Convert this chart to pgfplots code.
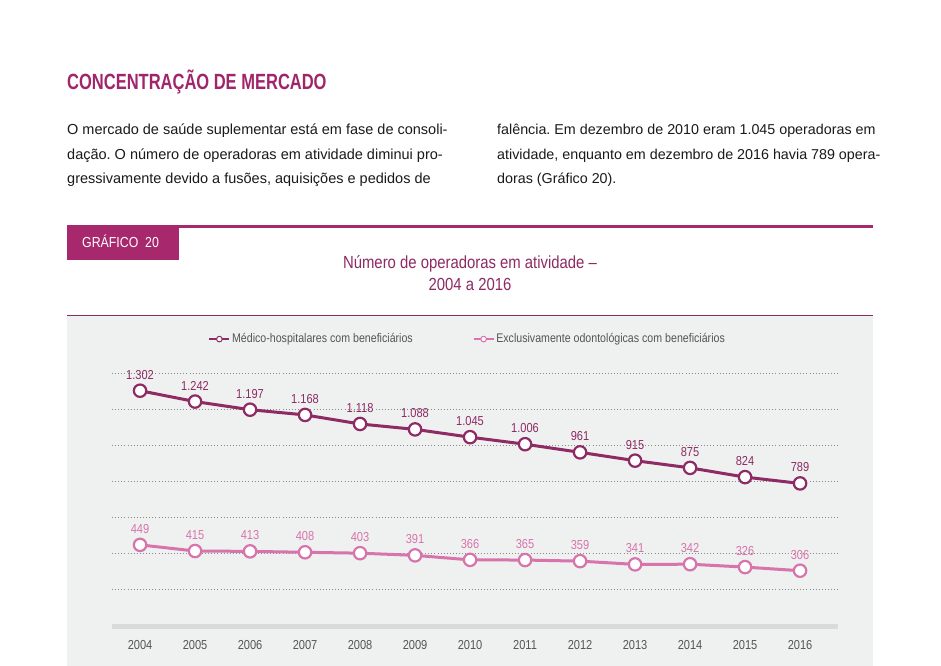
\documentclass[border=0pt]{standalone}
\usepackage{pgfplots}
\pgfplotsset{compat=1.18}
\usepackage{pgfplotstable}
\usepackage{fontspec}
\setmainfont{Liberation Sans}
\newfontfamily\cond[FakeStretch=0.85]{Liberation Sans}
\newfontfamily\condb[FakeStretch=0.75]{Liberation Sans}
\definecolor{dark}{HTML}{8E2A64}
\definecolor{light}{HTML}{D774AC}
\definecolor{titlec}{HTML}{A0256A}
\definecolor{tabc}{HTML}{A8286E}
\definecolor{panel}{HTML}{EFF0F0}
\definecolor{gridc}{HTML}{8A8A8A}
\definecolor{basec}{HTML}{D8DADB}
\definecolor{txt}{HTML}{1A1A1A}
\definecolor{lab}{HTML}{555555}
\frenchspacing

\pgfplotstableread{
year val label
2004 1302 1.302
2005 1242 1.242
2006 1197 1.197
2007 1168 1.168
2008 1118 1.118
2009 1088 1.088
2010 1045 1.045
2011 1006 1.006
2012 961 961
2013 915 915
2014 875 875
2015 824 824
2016 789 789
}\medtab
\pgfplotstableread{
year val label
2004 449 449
2005 415 415
2006 413 413
2007 408 408
2008 403 403
2009 391 391
2010 366 366
2011 365 365
2012 359 359
2013 341 341
2014 342 342
2015 326 326
2016 306 306
}\odotab

\begin{document}
\begin{tikzpicture}
\begin{scope}[x=1bp,y=-1bp]
\fill[white] (0,0) rectangle (941,666);
\fill[panel] (67,316) rectangle (873,666);
\draw[dark, line width=1bp] (67,315.5) -- (873,315.5);
\fill[tabc] (67,225) rectangle (179,260);
\draw[tabc, line width=3bp] (179,226.5) -- (873,226.5);
\node[anchor=base west, text=white, inner sep=0pt, font=\cond\fontsize{14.5bp}{16bp}\selectfont] at (82,247.5) {GRÁFICO\ \ 20};
\node[anchor=base west, text=titlec, inner sep=0pt, font=\condb\bfseries\fontsize{22bp}{24bp}\selectfont] at (67,90) {CONCENTRAÇÃO DE MERCADO};
\begin{scope}[every node/.style={anchor=base west, inner sep=0pt, text=txt, font=\fontsize{14.5bp}{16bp}\selectfont}]
\node at (67,135) {O mercado de saúde suplementar está em fase de consoli-};
\node at (67,160) {dação. O número de operadoras em atividade diminui pro-};
\node at (67,184) {gressivamente devido a fusões, aquisições e pedidos de};
\end{scope}
\begin{scope}[every node/.style={anchor=base west, inner sep=0pt, text=txt, font=\fontsize{14.3bp}{16bp}\selectfont}]
\node at (497,135) {falência. Em dezembro de 2010 eram 1.045 operadoras em};
\node at (497,160) {atividade, enquanto em dezembro de 2016 havia 789 opera-};
\node at (497,184) {doras (Gráfico 20).};
\end{scope}
\node[anchor=base, text=dark, inner sep=0pt, font=\cond\fontsize{17.5bp}{20bp}\selectfont] at (470,268) {Número de operadoras em atividade –};
\node[anchor=base, text=dark, inner sep=0pt, font=\cond\fontsize{17.5bp}{20bp}\selectfont] at (470,290) {2004 a 2016};
\end{scope}

\begin{axis}[
  at={(112bp,-626bp)}, anchor=south west,
  scale only axis, width=726bp, height=253bp,
  xmin=2003.49, xmax=2016.69, ymin=0, ymax=1400,
  axis line style={draw=none}, tick style={draw=none},
  xtick={2004,2005,...,2016},
  xticklabels={2004,2005,2006,2007,2008,2009,2010,2011,2012,2013,2014,2015,2016},
  xticklabel style={font=\cond\fontsize{13bp}{14bp}\selectfont, text=lab, yshift=-11bp},
  ytick={200,400,...,1400}, yticklabels={},
  ymajorgrids, grid style={gridc, line width=0.9bp, dash pattern=on 0.9bp off 2.2bp},
  extra y ticks={0}, extra y tick labels={},
  extra y tick style={grid style={solid, basec, line width=5bp}},
  clip=false,
  nodes near coords, point meta=explicit symbolic,
  every node near coord/.append style={font=\cond\fontsize{13bp}{14bp}\selectfont, yshift=7bp},
  legend columns=2,
  legend style={draw=none, fill=none, at={(0.49,1.134)}, anchor=center,
    font=\cond\fontsize{12.5bp}{14bp}\selectfont, text=lab,
    /tikz/every even column/.append style={column sep=58bp}},
  legend image code/.code={
    \draw[#1, line width=1.5bp] (0bp,0bp) -- (20bp,0bp);
    \draw[#1, fill=white, line width=1bp] (10bp,0bp) circle (2.8bp);
  },
]
\addplot[dark, line width=3bp, mark=*, mark size=6.2bp, mark options={fill=white, draw=dark, line width=2.2bp},
  nodes near coords style={text=dark}] table[x=year, y=val, meta=label] {\medtab};
\addlegendentry{Médico-hospitalares com beneficiários}
\addplot[light, line width=3bp, mark=*, mark size=6.2bp, mark options={fill=white, draw=light, line width=2.2bp},
  nodes near coords style={text=light}] table[x=year, y=val, meta=label] {\odotab};
\addlegendentry{Exclusivamente odontológicas com beneficiários}
\end{axis}
\end{tikzpicture}
\end{document}
